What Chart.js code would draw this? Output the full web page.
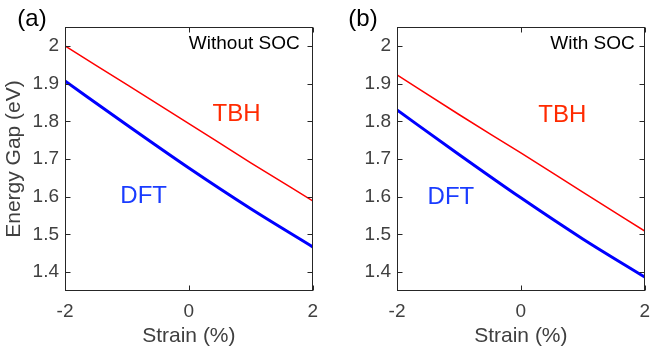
<!DOCTYPE html>
<html>
<head>
<meta charset="utf-8">
<script src="https://cdn.jsdelivr.net/npm/chart.js@4"></script>
<style>
    html, body { margin: 0; padding: 0; background: #fff; overflow: hidden; }
    #wrap { position: relative; width: 654px; height: 356px; overflow: hidden; }
    canvas { position: absolute; top: 0; }
    #gap-no-soc { left: 0; }
    #gap-soc { left: 327px; }
</style>
</head>
<body>
<div id="wrap">
    <canvas id="gap-no-soc" width="327" height="356"></canvas>
    <canvas id="gap-soc" width="332" height="356"></canvas>
</div>
<script>
// values
const strain = [-2, -1, 0, 1, 2];
const tbhNoSoc = [2.000, 1.897, 1.794, 1.690, 1.589];
const dftNoSoc = [1.907, 1.790, 1.676, 1.568, 1.467];
const tbhSoc = [1.923, 1.818, 1.716, 1.612, 1.509];
const dftSoc = [1.830, 1.712, 1.597, 1.488, 1.387];
const xTicks = [-2, 0, 2];
const yTicks = [1.4, 1.5, 1.6, 1.7, 1.8, 1.9, 2];

const FONT = '"Liberation Sans", Arial, Helvetica, sans-serif';
const AXIS_COLOR = '#262626';
const TEXT_COLOR = '#404040';

// box with inward ticks on all four sides, like matlab "box on"
const boxPlugin = {
    id: 'boxTicks',
    afterDatasetsDraw(chart) {
        let ctx = chart.ctx;
        let a = chart.chartArea;
        let x = chart.scales.x;
        let y = chart.scales.y;
        let l = Math.round(a.left) + 0.5;
        let r = Math.round(a.right) - 0.5;
        let t = Math.round(a.top) + 0.5;
        let b = Math.round(a.bottom) - 0.5;
        ctx.save();
        ctx.strokeStyle = AXIS_COLOR;
        ctx.lineWidth = 1;
        ctx.strokeRect(l, t, r - l, b - t);
        ctx.beginPath();
        yTicks.forEach(v => {
            let py = Math.round(y.getPixelForValue(v)) + 0.5;
            ctx.moveTo(l, py); ctx.lineTo(l + 5, py);
            ctx.moveTo(r, py); ctx.lineTo(r - 5, py);
        });
        xTicks.forEach(v => {
            let px = Math.round(x.getPixelForValue(v)) + 0.5;
            ctx.moveTo(px, b); ctx.lineTo(px, b - 5);
            ctx.moveTo(px, t); ctx.lineTo(px, t + 5);
        });
        ctx.stroke();
        ctx.restore();
    }
};

// panel letter, corner note and series names
const textPlugin = {
    id: 'panelText',
    afterDraw(chart, args, opts) {
        let ctx = chart.ctx;
        let a = chart.chartArea;
        ctx.save();
        ctx.textBaseline = 'middle';
        ctx.fillStyle = '#000';
        ctx.font = '24px ' + FONT;
        ctx.textAlign = 'center';
        ctx.fillText(opts.panel, opts.panelX, 19);
        ctx.font = '19px ' + FONT;
        ctx.textAlign = 'right';
        ctx.fillText(opts.corner, a.right - opts.cornerInset, a.top + 17);
        ctx.font = '24px ' + FONT;
        ctx.textAlign = 'center';
        opts.labels.forEach(lb => {
            ctx.fillStyle = lb.color;
            ctx.fillText(lb.text, chart.scales.x.getPixelForValue(lb.x), chart.scales.y.getPixelForValue(lb.y));
        });
        ctx.restore();
    }
};

function makeConfig(tbh, dft, yWidth, showTitle, rightPad, text) {
    return {
        type: 'line',
        data: {
            labels: strain,
            datasets: [{
                label: 'TBH',
                data: strain.map((s, i) => ({x: s, y: tbh[i]})),
                borderColor: '#ff0000',
                borderWidth: 1.5,
                pointRadius: 0,
                cubicInterpolationMode: 'monotone'
            }, {
                label: 'DFT',
                data: strain.map((s, i) => ({x: s, y: dft[i]})),
                borderColor: '#0000ff',
                borderWidth: 3,
                pointRadius: 0,
                cubicInterpolationMode: 'monotone'
            }]
        },
        options: {
            responsive: false,
            animation: false,
            events: [],
            devicePixelRatio: 1,
            layout: { padding: { top: 27, right: rightPad, left: 0, bottom: 0 } },
            scales: {
                x: {
                    type: 'linear',
                    min: -2,
                    max: 2,
                    afterBuildTicks: s => { s.ticks = xTicks.map(v => ({value: v})); },
                    afterFit: s => { s.height = 65; },
                    grid: { display: false, drawTicks: false, tickLength: 0 },
                    border: { display: false },
                    ticks: {
                        color: TEXT_COLOR,
                        font: { family: FONT, size: 19 },
                        padding: 9,
                        maxRotation: 0,
                        callback: v => String(v)
                    },
                    title: {
                        display: true,
                        text: 'Strain (%)',
                        color: TEXT_COLOR,
                        font: { family: FONT, size: 21 },
                        padding: { top: 0, bottom: 7 }
                    }
                },
                y: {
                    type: 'linear',
                    min: 1.35,
                    max: 2.05,
                    afterBuildTicks: s => { s.ticks = yTicks.map(v => ({value: v})); },
                    afterFit: s => { s.width = yWidth; },
                    grid: { display: false, drawTicks: false, tickLength: 0 },
                    border: { display: false },
                    ticks: {
                        color: TEXT_COLOR,
                        font: { family: FONT, size: 19 },
                        padding: 6,
                        callback: v => String(v)
                    },
                    title: {
                        display: showTitle,
                        text: 'Energy Gap (eV)',
                        color: TEXT_COLOR,
                        font: { family: FONT, size: 21 },
                        padding: { top: 2, bottom: 0 }
                    }
                }
            },
            plugins: {
                legend: { display: false },
                tooltip: { enabled: false },
                panelText: text
            }
        },
        plugins: [boxPlugin, textPlugin]
    };
}

window.onload = () => {
    let noSocChart = makeConfig(tbhNoSoc, dftNoSoc, 65, true, 9, {
        panel: '(a)', panelX: 32, corner: 'Without SOC', cornerInset: 13,
        labels: [
            {text: 'TBH', x: 0.77, y: 1.817, color: '#ff2a00'},
            {text: 'DFT', x: -0.73, y: 1.600, color: '#1a3cff'}
        ]
    });
    let socChart = makeConfig(tbhSoc, dftSoc, 70, false, 9, {
        panel: '(b)', panelX: 36, corner: 'With SOC', cornerInset: 10,
        labels: [
            {text: 'TBH', x: 0.67, y: 1.815, color: '#ff2a00'},
            {text: 'DFT', x: -1.13, y: 1.598, color: '#1a3cff'}
        ]
    });

    new Chart(document.getElementById('gap-no-soc'), noSocChart);
    new Chart(document.getElementById('gap-soc'), socChart);
};
</script>
</body>
</html>
